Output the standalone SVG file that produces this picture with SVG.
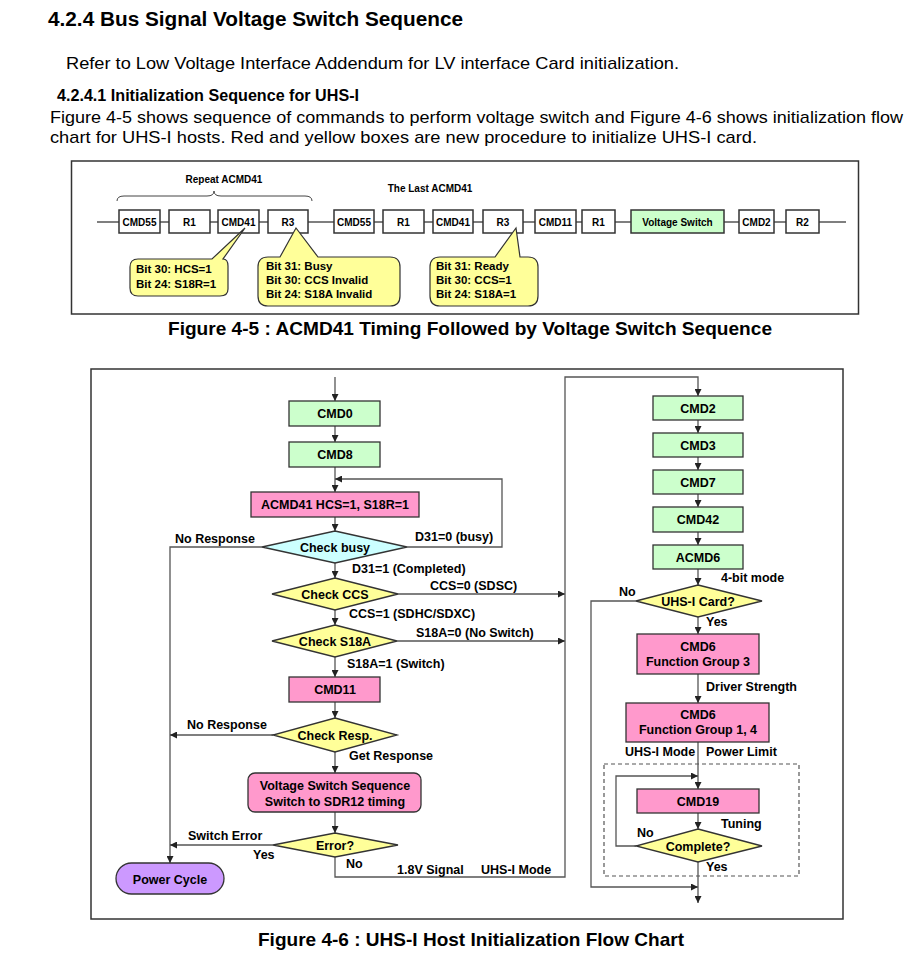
<svg xmlns="http://www.w3.org/2000/svg" width="912" height="955" viewBox="0 0 912 955">
<style>
text{font-family:"Liberation Sans",Arial,sans-serif;fill:#000}
.h1{font-size:20px;font-weight:bold}
.h2{font-size:17px;font-weight:bold}
.p{font-size:17px}
.cap{font-size:19px;font-weight:bold}
.tb{fill:#fff;stroke:#333;stroke-width:1.5}
.tt{font-size:10px;font-weight:bold;text-anchor:middle}
.call{fill:#ffff99;stroke:#333;stroke-width:1.2}
.ct{font-size:11.5px;font-weight:bold}
.bx{stroke:#333;stroke-width:1.3}
.g{fill:#ccffcc}.pk{fill:#ff99cc}.y{fill:#ffff99}.c{fill:#ccffff}.pu{fill:#cc99ff}
.bt{font-size:12.5px;font-weight:bold;text-anchor:middle}
.lb{font-size:12.5px;font-weight:bold}
.ln{fill:none;stroke:#555;stroke-width:1.3}
</style>
<defs>
<marker id="ah" viewBox="0 0 8 8" refX="8" refY="4" markerWidth="7" markerHeight="7" orient="auto" markerUnits="userSpaceOnUse"><path d="M0,0 L8,4 L0,8 z" fill="#222"/></marker>
</defs>
<rect width="912" height="955" fill="#fff"/>
<text class="h1" x="48" y="26" textLength="415" lengthAdjust="spacingAndGlyphs">4.2.4 Bus Signal Voltage Switch Sequence</text>
<text class="p" x="66" y="69" textLength="613" lengthAdjust="spacingAndGlyphs">Refer to Low Voltage Interface Addendum for LV interface Card initialization.</text>
<text class="h2" x="57" y="101" textLength="302" lengthAdjust="spacingAndGlyphs">4.2.4.1 Initialization Sequence for UHS-I</text>
<text class="p" x="50" y="123" textLength="853" lengthAdjust="spacingAndGlyphs">Figure 4-5 shows sequence of commands to perform voltage switch and Figure 4-6 shows initialization flow</text>
<text class="p" x="50" y="143" textLength="707" lengthAdjust="spacingAndGlyphs">chart for UHS-I hosts. Red and yellow boxes are new procedure to initialize UHS-I card.</text>

<g id="fig45">
<rect x="71.5" y="161" width="787" height="153" fill="#fff" stroke="#333" stroke-width="1.5"/>
<text class="tt" x="224" y="183">Repeat ACMD41</text>
<path d="M117,201 Q117,196 124,196 H207 Q214,196 214,191 Q214,196 221,196 H305 Q312,196 312,201" fill="none" stroke="#444" stroke-width="1"/>
<text class="tt" x="430" y="192">The Last ACMD41</text>
<line x1="97" y1="222" x2="846" y2="222" stroke="#555" stroke-width="1.3"/>
<g id="t1"><rect class="tb" x="119" y="210" width="41" height="23"/><text class="tt" x="139.5" y="225.5">CMD55</text></g>
<g id="t2"><rect class="tb" x="169" y="210" width="41" height="23"/><text class="tt" x="189.5" y="225.5">R1</text></g>
<g id="t3"><rect class="tb" x="218" y="210" width="41" height="23"/><text class="tt" x="238.5" y="225.5">CMD41</text></g>
<g id="t4"><rect class="tb" x="268" y="210" width="40" height="23"/><text class="tt" x="288" y="225.5">R3</text></g>
<g id="t5"><rect class="tb" x="334" y="210" width="40" height="23"/><text class="tt" x="354" y="225.5">CMD55</text></g>
<g id="t6"><rect class="tb" x="383" y="210" width="41" height="23"/><text class="tt" x="403.5" y="225.5">R1</text></g>
<g id="t7"><rect class="tb" x="433" y="210" width="40" height="23"/><text class="tt" x="453" y="225.5">CMD41</text></g>
<g id="t8"><rect class="tb" x="483" y="210" width="40" height="23"/><text class="tt" x="503" y="225.5">R3</text></g>
<g id="t9"><rect class="tb" x="535" y="210" width="41" height="23"/><text class="tt" x="555.5" y="225.5">CMD11</text></g>
<g id="t10"><rect class="tb" x="582" y="210" width="33" height="23"/><text class="tt" x="598.5" y="225.5">R1</text></g>
<g id="t11"><rect class="tb" x="631" y="210" width="93" height="23" style="fill:#ccffcc"/><text class="tt" x="677.5" y="225.5">Voltage Switch</text></g>
<g id="t12"><rect class="tb" x="739" y="210" width="35" height="23"/><text class="tt" x="756.5" y="225.5">CMD2</text></g>
<g id="t13"><rect class="tb" x="786" y="210" width="33" height="23"/><text class="tt" x="802.5" y="225.5">R2</text></g>
<g id="c1"><path class="call" d="M138,259 H212 L245,228 L223,259 Q228,259 228,266 V289 Q228,296 220,296 H138 Q130,296 130,288 V267 Q130,259 138,259 Z"/>
<text class="ct" x="136" y="273">Bit 30: HCS=1</text><text class="ct" x="136" y="288">Bit 24: S18R=1</text></g>
<g id="c2"><path class="call" d="M268,257 H280 L296,228 L318,257 H390 Q400,257 400,267 V296 Q400,306 390,306 H268 Q258,306 258,296 V267 Q258,257 268,257 Z"/>
<text class="ct" x="266" y="270">Bit 31: Busy</text><text class="ct" x="266" y="284">Bit 30: CCS Invalid</text><text class="ct" x="266" y="298">Bit 24: S18A Invalid</text></g>
<g id="c3"><path class="call" d="M440,257 H495 L516,228 L520,257 H528 Q538,257 538,267 V296 Q538,306 528,306 H440 Q430,306 430,296 V267 Q430,257 440,257 Z"/>
<text class="ct" x="436" y="270">Bit 31: Ready</text><text class="ct" x="436" y="284">Bit 30: CCS=1</text><text class="ct" x="436" y="298">Bit 24: S18A=1</text></g>
</g>
<text class="cap" x="168" y="335" textLength="604" lengthAdjust="spacingAndGlyphs">Figure 4-5 : ACMD41 Timing Followed by Voltage Switch Sequence</text>

<rect x="91" y="369" width="752" height="550" fill="#fff" stroke="#333" stroke-width="1.5"/>

<g id="connectors">
<line class="ln" x1="335" y1="377" x2="335" y2="401" marker-end="url(#ah)"/>
<line class="ln" x1="335" y1="426" x2="335" y2="442" marker-end="url(#ah)"/>
<line class="ln" x1="335" y1="467" x2="335" y2="492" marker-end="url(#ah)"/>
<polyline class="ln" points="407,547 502,547 502,479 335,479" marker-end="url(#ah)"/>
<line class="ln" x1="335" y1="517" x2="335" y2="531" marker-end="url(#ah)"/>
<polyline class="ln" points="262,547 170,547 170,863" marker-end="url(#ah)"/>
<line class="ln" x1="335" y1="563" x2="335" y2="578" marker-end="url(#ah)"/>
<line class="ln" x1="398" y1="594" x2="565" y2="594" marker-end="url(#ah)"/>
<line class="ln" x1="335" y1="610" x2="335" y2="625" marker-end="url(#ah)"/>
<line class="ln" x1="397" y1="641" x2="565" y2="641" marker-end="url(#ah)"/>
<line class="ln" x1="335" y1="657" x2="335" y2="677" marker-end="url(#ah)"/>
<line class="ln" x1="335" y1="702" x2="335" y2="718" marker-end="url(#ah)"/>
<line class="ln" x1="273" y1="735" x2="170" y2="735" marker-end="url(#ah)"/>
<line class="ln" x1="335" y1="752" x2="335" y2="773" marker-end="url(#ah)"/>
<line class="ln" x1="335" y1="812" x2="335" y2="833" marker-end="url(#ah)"/>
<line class="ln" x1="273" y1="845" x2="170" y2="845" marker-end="url(#ah)"/>
<polyline class="ln" points="335,857 335,877 565,877 565,377 698,377 698,396" marker-end="url(#ah)"/>
<line class="ln" x1="698" y1="420" x2="698" y2="433" marker-end="url(#ah)"/>
<line class="ln" x1="698" y1="457" x2="698" y2="470" marker-end="url(#ah)"/>
<line class="ln" x1="698" y1="494" x2="698" y2="507" marker-end="url(#ah)"/>
<line class="ln" x1="698" y1="532" x2="698" y2="545" marker-end="url(#ah)"/>
<line class="ln" x1="698" y1="569" x2="698" y2="585" marker-end="url(#ah)"/>
<polyline class="ln" points="636,601 591,601 591,887 698,887" marker-end="url(#ah)"/>
<line class="ln" x1="698" y1="617" x2="698" y2="634" marker-end="url(#ah)"/>
<line class="ln" x1="698" y1="674" x2="698" y2="703" marker-end="url(#ah)"/>
<line class="ln" x1="698" y1="742" x2="698" y2="789" marker-end="url(#ah)"/>
<polyline class="ln" points="636,846 616,846 616,776 698,776" marker-end="url(#ah)"/>
<line class="ln" x1="698" y1="813" x2="698" y2="829" marker-end="url(#ah)"/>
<line class="ln" x1="698" y1="862" x2="698" y2="903" marker-end="url(#ah)"/>
<rect x="604" y="764" width="195" height="112" fill="none" stroke="#555" stroke-width="1.2" stroke-dasharray="4,3"/>
<text class="lb" x="415" y="541">D31=0 (busy)</text>
<text class="lb" x="175" y="543">No Response</text>
<text class="lb" x="352" y="573">D31=1 (Completed)</text>
<text class="lb" x="430" y="590">CCS=0 (SDSC)</text>
<text class="lb" x="349" y="618">CCS=1 (SDHC/SDXC)</text>
<text class="lb" x="416" y="637">S18A=0 (No Switch)</text>
<text class="lb" x="347" y="668">S18A=1 (Switch)</text>
<text class="lb" x="187" y="729">No Response</text>
<text class="lb" x="349" y="760">Get Response</text>
<text class="lb" x="188" y="840">Switch Error</text>
<text class="lb" x="253" y="859">Yes</text>
<text class="lb" x="346" y="868">No</text>
<text class="lb" x="397" y="874">1.8V Signal</text>
<text class="lb" x="481" y="874">UHS-I Mode</text>
<text class="lb" x="721" y="582">4-bit mode</text>
<text class="lb" x="619" y="596">No</text>
<text class="lb" x="706" y="626">Yes</text>
<text class="lb" x="706" y="691">Driver Strength</text>
<text class="lb" x="625" y="756">UHS-I Mode</text>
<text class="lb" x="706" y="756">Power Limit</text>
<text class="lb" x="721" y="828">Tuning</text>
<text class="lb" x="637" y="837">No</text>
<text class="lb" x="706" y="871">Yes</text>
</g>

<g id="cmd0"><rect class="bx g" x="289" y="401" width="91" height="25"/><text class="bt" x="335" y="418">CMD0</text></g>
<g id="cmd8"><rect class="bx g" x="289" y="442" width="91" height="25"/><text class="bt" x="335" y="459">CMD8</text></g>
<g id="acmd41"><rect class="bx pk" x="251" y="492" width="168" height="25"/><text class="bt" x="335" y="509">ACMD41 HCS=1, S18R=1</text></g>
<g id="checkbusy"><polygon class="bx c" points="335,531 407,547 335,563 262,547"/><text class="bt" x="335" y="552">Check busy</text></g>
<g id="checkccs"><polygon class="bx y" points="335,578 398,594 335,610 272,594"/><text class="bt" x="335" y="599">Check CCS</text></g>
<g id="checks18a"><polygon class="bx y" points="335,625 397,641 335,657 272,641"/><text class="bt" x="335" y="646">Check S18A</text></g>
<g id="cmd11"><rect class="bx pk" x="289" y="677" width="91" height="25"/><text class="bt" x="335" y="694">CMD11</text></g>
<g id="checkresp"><polygon class="bx y" points="335,718 397,735 335,752 273,735"/><text class="bt" x="335" y="740">Check Resp.</text></g>
<g id="vss"><rect class="bx pk" x="248" y="773" width="173" height="39" rx="7"/><text class="bt" x="335" y="790">Voltage Switch Sequence</text><text class="bt" x="335" y="806">Switch to SDR12 timing</text></g>
<g id="error"><polygon class="bx y" points="335,833 398,845 335,857 273,845"/><text class="bt" x="335" y="850">Error?</text></g>
<g id="powercycle"><rect class="bx pu" x="116" y="863" width="108" height="31" rx="15.5"/><text class="bt" x="170" y="884">Power Cycle</text></g>

<g id="cmd2"><rect class="bx g" x="653" y="396" width="90" height="24"/><text class="bt" x="698" y="413">CMD2</text></g>
<g id="cmd3"><rect class="bx g" x="653" y="433" width="90" height="24"/><text class="bt" x="698" y="450">CMD3</text></g>
<g id="cmd7"><rect class="bx g" x="653" y="470" width="90" height="24"/><text class="bt" x="698" y="487">CMD7</text></g>
<g id="cmd42"><rect class="bx g" x="653" y="507" width="90" height="25"/><text class="bt" x="698" y="524">CMD42</text></g>
<g id="acmd6"><rect class="bx g" x="653" y="545" width="90" height="24"/><text class="bt" x="698" y="562">ACMD6</text></g>
<g id="uhscard"><polygon class="bx y" points="698,585 762,601 698,617 636,601"/><text class="bt" x="698" y="606">UHS-I Card?</text></g>
<g id="cmd6fg3"><rect class="bx pk" x="637" y="634" width="122" height="40"/><text class="bt" x="698" y="651">CMD6</text><text class="bt" x="698" y="666">Function Group 3</text></g>
<g id="cmd6fg14"><rect class="bx pk" x="626" y="703" width="143" height="39"/><text class="bt" x="698" y="719">CMD6</text><text class="bt" x="698" y="734">Function Group 1, 4</text></g>
<g id="cmd19"><rect class="bx pk" x="637" y="789" width="122" height="24"/><text class="bt" x="698" y="806">CMD19</text></g>
<g id="complete"><polygon class="bx y" points="698,829 762,846 698,862 636,846"/><text class="bt" x="698" y="851">Complete?</text></g>

<text class="cap" x="258" y="946" textLength="426" lengthAdjust="spacingAndGlyphs">Figure 4-6 : UHS-I Host Initialization Flow Chart</text>
</svg>
